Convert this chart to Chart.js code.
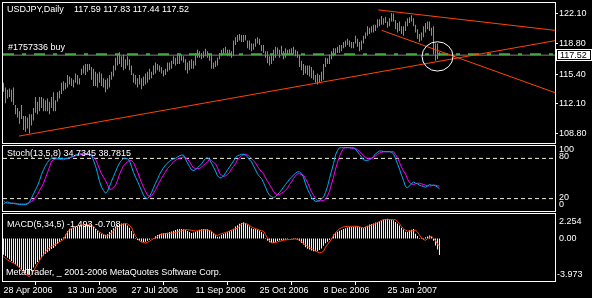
<!DOCTYPE html>
<html>
<head>
<meta charset="utf-8">
<script src="https://cdn.jsdelivr.net/npm/chart.js@4.4.1/dist/chart.umd.min.js"></script>
<style>
  html, body { margin: 0; padding: 0; background: #000; }
  #wrap { position: relative; width: 592px; height: 298px; background: #000; overflow: hidden; }
  canvas { position: absolute; left: 0; }
</style>
</head>
<body>
<div id="wrap">
  <canvas id="priceChart" width="592" height="145" style="top:0"></canvas>
  <canvas id="stochChart" width="592" height="67" style="top:145px"></canvas>
  <canvas id="macdChart" width="592" height="85" style="top:213px"></canvas>
</div>
<script>
// ------------------------------------------------------------
// USDJPY daily, 28 Apr 2006 .. 2 Mar 2007 (bar index 0..218)
// ------------------------------------------------------------
const barHigh = [
  114.44, 113.91, 113.67, 113.81, 113.67, 113.91, 111.99, 111.64, 111.29, 111.99,
  110.76, 110.76, 110.59, 110.94, 110.94, 111.64, 112.86, 112.34, 112.86, 112.86,
  112.69, 112.51, 112.69, 112.34, 112.86, 113.39, 112.51, 113.39, 113.56, 114.44,
  114.61, 114.44, 115.31, 115.14, 114.96, 114.79, 115.49, 115.31, 114.96, 116.01,
  116.36, 116.54, 116.54, 116.54, 116.19, 116.01, 115.66, 115.49, 115.66, 115.49,
  114.96, 114.79, 114.96, 115.31, 115.66, 116.36, 117.24, 117.59, 117.83, 117.41,
  117.59, 117.06, 117.41, 117.06, 116.36, 115.49, 115.31, 114.96, 115.31, 114.96,
  115.14, 115.49, 115.66, 116.01, 115.66, 116.36, 116.71, 116.54, 116.36, 116.19,
  115.84, 116.01, 116.71, 116.71, 116.89, 117.41, 117.24, 117.59, 117.59, 117.59,
  117.41, 117.06, 116.71, 116.89, 117.06, 116.89, 117.76, 118.11, 117.94, 117.76,
  117.94, 118.22, 117.94, 117.66, 117.59, 116.71, 116.89, 117.24, 117.76, 118.11,
  118.29, 118.46, 118.11, 118.11, 117.94, 119.16, 119.51, 119.76, 119.86, 119.76,
  119.76, 119.76, 119.16, 119.16, 118.81, 118.81, 119.34, 119.51, 119.34, 118.64,
  118.64, 117.94, 117.94, 117.41, 117.59, 118.11, 118.46, 118.36, 118.11, 118.57,
  117.94, 118.29, 118.11, 118.18, 118.29, 118.46, 118.11, 117.94, 117.59, 116.89,
  116.54, 116.36, 116.36, 116.36, 116.19, 115.84, 115.31, 115.49, 115.31, 115.66,
  116.54, 117.24, 117.17, 117.59, 117.94, 118.29, 118.29, 118.46, 118.64, 118.64,
  118.99, 119.16, 119.34, 119.16, 118.99, 118.99, 119.69, 119.34, 118.99, 119.16,
  119.69, 120.04, 120.74, 120.56, 120.74, 120.91, 120.91, 121.51, 121.51, 121.86,
  121.61, 121.79, 121.26, 121.61, 122.21, 122.14, 121.44, 121.09, 121.26, 120.74,
  120.74, 121.26, 121.61, 121.72, 121.96, 121.61, 120.91, 120.39, 119.86, 120.04,
  120.74, 121.09, 121.26, 121.26, 120.56, 120.74, 118.81, 118.81, 117.83
];
const barLow = [
  113.46, 112.16, 112.69, 112.86, 112.34, 111.99, 110.94, 110.59, 109.89, 110.41,
  109.19, 109.01, 109.36, 108.84, 109.71, 110.24, 111.11, 110.94, 111.29, 111.64,
  111.29, 111.29, 111.29, 110.94, 111.64, 111.29, 111.29, 112.34, 112.69, 113.21,
  113.56, 113.74, 113.91, 114.26, 114.09, 113.91, 114.44, 114.26, 114.26, 115.31,
  115.49, 115.31, 115.66, 115.84, 114.79, 114.09, 114.09, 113.91, 114.44, 114.09,
  113.91, 113.39, 113.74, 113.91, 114.79, 115.14, 115.84, 116.36, 116.54, 116.19,
  115.84, 116.01, 116.36, 115.84, 115.31, 114.44, 114.26, 113.91, 114.26, 113.74,
  114.09, 114.26, 114.44, 114.79, 114.96, 115.31, 115.49, 115.84, 115.66, 115.49,
  115.14, 115.31, 115.66, 115.84, 116.01, 116.54, 116.36, 116.54, 116.54, 116.89,
  116.71, 115.84, 115.49, 115.84, 116.01, 116.01, 116.36, 117.24, 117.24, 117.06,
  117.24, 117.41, 117.24, 116.89, 116.01, 116.01, 116.19, 116.36, 117.06, 117.41,
  117.59, 117.76, 117.41, 117.41, 117.24, 117.41, 118.64, 118.99, 119.16, 118.99,
  118.99, 119.16, 118.29, 118.11, 117.94, 118.11, 118.46, 118.81, 118.64, 117.94,
  117.76, 117.24, 116.61, 116.36, 116.54, 116.89, 117.24, 117.59, 117.24, 117.59,
  117.06, 117.24, 117.59, 117.59, 117.59, 117.59, 117.41, 117.24, 116.19, 115.84,
  115.31, 115.49, 115.31, 115.14, 114.96, 114.79, 114.44, 114.26, 114.44, 114.61,
  114.79, 116.19, 116.54, 116.54, 117.06, 117.41, 117.59, 117.76, 117.76, 117.94,
  118.29, 118.46, 118.64, 118.46, 118.29, 118.29, 118.81, 118.46, 117.94, 118.11,
  118.81, 119.34, 119.69, 119.86, 120.04, 120.04, 120.21, 120.56, 120.74, 120.91,
  120.91, 121.09, 120.56, 120.74, 121.26, 121.26, 120.39, 120.04, 120.21, 119.86,
  119.69, 120.21, 120.74, 121.09, 121.26, 120.74, 120.04, 119.34, 118.99, 119.16,
  119.51, 120.04, 120.39, 120.21, 119.69, 117.59, 116.89, 117.06, 117.44
];
const lastBar = { open: 117.59, high: 117.83, low: 117.44, close: 117.52 };

// Stochastic(13,5,8): main + signal
const stochMain = [
  12, 14, 15, 14, 13, 13, 12, 12, 11, 11,
  11, 11, 12, 15, 21, 27, 33, 39, 47, 56,
  63, 69, 74, 78, 80, 81, 81, 80, 80, 80,
  80, 80, 80, 81, 82, 83, 85, 86, 87, 87,
  87, 87, 87, 86, 85, 77, 69, 58, 46, 37,
  32, 28, 31, 38, 46, 53, 60, 67, 73, 77,
  80, 80, 80, 76, 68, 59, 52, 46, 39, 32,
  25, 21, 20, 23, 29, 36, 43, 49, 56, 61,
  66, 70, 73, 76, 78, 79, 80, 82, 84, 85,
  85, 79, 73, 68, 63, 62, 63, 66, 69, 72,
  76, 80, 81, 78, 73, 67, 61, 54, 51, 51,
  54, 58, 63, 67, 72, 76, 81, 84, 85, 86,
  86, 85, 82, 78, 75, 69, 63, 57, 53, 50,
  44, 37, 30, 25, 23, 21, 23, 26, 29, 33,
  37, 41, 45, 49, 52, 55, 58, 60, 60, 57,
  52, 42, 34, 28, 22, 18, 16, 16, 17, 20,
  22, 29, 38, 50, 61, 72, 85, 92, 96, 96,
  96, 96, 96, 96, 96, 96, 94, 90, 86, 82,
  78, 77, 77, 78, 80, 83, 87, 89, 91, 91,
  90, 90, 90, 90, 89, 87, 80, 72, 64, 55,
  47, 38, 36, 39, 42, 45, 43, 42, 40, 39,
  38, 37, 39, 41, 40, 40, 39, 37, 34.7345
];
const stochSignal = [
  17, 14, 13, 13, 13, 13, 13, 12, 12, 12,
  12, 12, 13, 14, 16, 18, 22, 26, 32, 37,
  43, 51, 59, 67, 76, 78, 79, 79, 79, 78,
  78, 79, 80, 81, 82, 83, 84, 85, 85, 86,
  86, 86, 86, 86, 84, 82, 79, 72, 64, 57,
  52, 47, 41, 34, 34, 37, 40, 47, 56, 63,
  69, 72, 75, 77, 77, 74, 67, 60, 52, 44,
  37, 31, 25, 23, 24, 28, 33, 39, 45, 50,
  55, 60, 65, 68, 71, 75, 77, 79, 80, 81,
  82, 81, 79, 75, 70, 66, 65, 65, 65, 67,
  70, 72, 75, 79, 77, 74, 72, 66, 58, 55,
  53, 54, 56, 59, 64, 68, 72, 78, 81, 84,
  86, 86, 85, 83, 80, 77, 73, 68, 64, 60,
  57, 51, 46, 41, 36, 31, 27, 26, 26, 28,
  30, 32, 36, 41, 45, 50, 54, 57, 57, 56,
  55, 50, 44, 37, 30, 25, 20, 17, 16, 17,
  17, 19, 24, 31, 42, 52, 64, 74, 83, 90,
  95, 96, 96, 96, 95, 95, 95, 93, 90, 87,
  84, 81, 80, 80, 80, 81, 84, 86, 88, 89,
  90, 90, 90, 90, 90, 90, 86, 81, 74, 67,
  61, 57, 49, 44, 42, 41, 42, 43, 43, 42,
  41, 40, 39, 39, 39, 40, 40, 39, 38.7815
];
const stochLevels = [80, 20];

// MACD(5,34,5): histogram + signal
const macdMain = [
  -1.47, -1.6, -1.75, -1.9, -2.05, -2.2, -2.35, -2.5, -2.65, -2.85,
  -3.0, -3.15, -3.28, -3.3, -3.0, -2.65, -2.35, -2.15, -1.95, -1.75,
  -1.55, -1.38, -1.25, -1.1, -0.95, -0.85, -0.7, -0.5, -0.3, -0.15,
  0.1, 0.37, 0.7, 0.9, 0.98, 1.05, 1.1, 1.13, 1.15, 1.17,
  1.19, 1.24, 1.28, 1.29, 1.2, 1.1, 0.9, 0.75, 0.55, 0.45,
  0.37, 0.35, 0.4, 0.6, 0.8, 0.95, 1.1, 1.25, 1.33, 1.38,
  1.38, 1.38, 1.2, 1.0, 0.7, 0.4, 0.06, -0.12, -0.22, -0.28,
  -0.31, -0.28, -0.2, -0.1, -0.02, 0.06, 0.22, 0.32, 0.4, 0.46,
  0.49, 0.51, 0.53, 0.6, 0.66, 0.72, 0.8, 0.85, 0.88, 0.89,
  0.85, 0.79, 0.7, 0.6, 0.52, 0.55, 0.64, 0.72, 0.82, 0.86,
  0.88, 0.89, 0.85, 0.78, 0.65, 0.48, 0.35, 0.17, 0.2, 0.35,
  0.42, 0.5, 0.58, 0.68, 0.77, 0.9, 1.1, 1.22, 1.36, 1.44,
  1.5, 1.44, 1.3, 1.1, 0.95, 0.89, 0.87, 0.84, 0.75, 0.6,
  0.45, 0.05, -0.2, -0.33, -0.38, -0.4, -0.3, -0.22, -0.18, -0.15,
  -0.12, -0.1, -0.05, 0.0, -0.02, -0.03, -0.03, -0.1, -0.22, -0.4,
  -0.55, -0.8, -0.92, -1.0, -1.08, -1.15, -1.16, -1.16, -1.05, -0.9,
  -0.65, -0.42, -0.28, -0.12, 0.06, 0.37, 0.55, 0.63, 0.72, 0.8,
  0.89, 0.96, 1.02, 1.07, 1.07, 1.07, 1.12, 1.11, 1.07, 1.02,
  0.98, 1.08, 1.18, 1.29, 1.34, 1.38, 1.47, 1.53, 1.59, 1.66,
  1.74, 1.8, 1.81, 1.76, 1.72, 1.68, 1.53, 1.38, 1.2, 1.0,
  0.83, 0.62, 0.6, 0.74, 0.82, 0.88, 0.45, 0.25, 0.06, -0.03,
  -0.09, 0.12, 0.2, 0.28, 0.2, -0.2, -0.64, -1.0, -1.493
];
const macdSignal = [
  -1.62, -1.8, -1.95, -2.05, -2.15, -2.25, -2.35, -2.5, -2.7, -2.85,
  -3.0, -3.2, -3.4, -3.46, -3.3, -3.0, -2.65, -2.3, -2.0, -1.7,
  -1.45, -1.2, -0.95, -0.82, -0.72, -0.62, -0.52, -0.44, -0.3, -0.2,
  -0.09, 0.25, 0.6, 0.8, 0.92, 1.02, 1.1, 1.15, 1.2, 1.24,
  1.27, 1.29, 1.29, 1.25, 1.19, 1.13, 0.92, 0.75, 0.6, 0.48,
  0.38, 0.25, 0.25, 0.4, 0.5, 0.7, 0.9, 1.05, 1.17, 1.28,
  1.33, 1.37, 1.35, 1.2, 1.0, 0.6, 0.21, 0.0, -0.2, -0.3,
  -0.37, -0.4, -0.33, -0.25, -0.12, 0.0, 0.06, 0.2, 0.35, 0.4,
  0.43, 0.45, 0.47, 0.49, 0.5, 0.52, 0.57, 0.62, 0.66, 0.72,
  0.78, 0.83, 0.81, 0.79, 0.77, 0.73, 0.69, 0.7, 0.74, 0.77,
  0.8, 0.82, 0.8, 0.74, 0.67, 0.5, 0.32, 0.3, 0.38, 0.46,
  0.5, 0.56, 0.62, 0.7, 0.78, 0.83, 0.9, 0.96, 1.15, 1.35,
  1.44, 1.38, 1.32, 1.2, 1.08, 0.98, 0.92, 0.85, 0.78, 0.72,
  0.67, 0.38, 0.05, -0.2, -0.4, -0.38, -0.35, -0.3, -0.25, -0.2,
  -0.15, -0.12, -0.1, -0.09, -0.07, -0.05, -0.03, -0.08, -0.14, -0.3,
  -0.45, -0.58, -0.7, -0.82, -0.92, -1.01, -1.12, -1.22, -1.3, -1.28,
  -1.16, -0.8, -0.55, -0.3, -0.05, 0.28, 0.5, 0.75, 0.9, 1.0,
  1.07, 1.1, 1.12, 1.13, 1.13, 1.13, 1.13, 1.12, 1.08, 1.02,
  0.98, 1.05, 1.11, 1.17, 1.23, 1.29, 1.37, 1.46, 1.57, 1.67,
  1.74, 1.74, 1.74, 1.74, 1.74, 1.74, 1.74, 1.55, 1.35, 1.1,
  0.92, 0.77, 0.7, 0.67, 0.7, 0.74, 0.77, 0.6, 0.35, 0.06,
  -0.08, -0.15, 0.0, 0.12, 0.21, 0.05, -0.2, -0.5, -0.708
];

// axis ticks
const tickIdx = [0, 32, 64, 96, 128, 160, 192];
const tickLabels = ['28 Apr 2006', '13 Jun 2006', '27 Jul 2006', '11 Sep 2006', '25 Oct 2006', '8 Dec 2006', '25 Jan 2007'];
const priceTicks = [122.10, 118.80, 115.40, 112.10, 108.80];

// drawn objects: trend lines [i1, p1, i2, p2], order line, analysis circle
const trendLines = [
  [7.75, 108.52, 275.75, 119.13],
  [187.4, 122.55, 275.75, 120.28],
  [189.1, 120.28, 275.75, 113.35],
];
const orderPrice = 117.62;
const orderTicket = '#1757336 buy';
const circleMark = { i: 217, p: 117.38, ri: 7.75, rp: 1.63 };

// ------------------------------------------------------------
// Shared layout
// ------------------------------------------------------------
const X_MIN = -0.25, X_MAX = 275.75;
const AXIS_W = 37;
const FONT = '"Liberation Sans", Arial, sans-serif';
const GREEN = '#32CD32';
const TREND = '#FF4500';

Chart.defaults.font.family = FONT;
Chart.defaults.font.size = 9;
Chart.defaults.color = '#FFFFFF';
Chart.defaults.animation = false;

const toXY = (arr) => arr.map((v, i) => ({ x: i, y: v }));
const hLine = (v) => [{ x: X_MIN, y: v }, { x: X_MAX, y: v }];

function baseOptions(padding) {
  return {
    responsive: false,
    devicePixelRatio: 1,
    events: [],
    layout: { padding },
    plugins: { legend: { display: false }, tooltip: { enabled: false } },
  };
}

function hiddenX() {
  return { type: 'linear', min: X_MIN, max: X_MAX, offset: false, display: false };
}

function rightAxis(min, max, extra = {}) {
  return Object.assign({
    type: 'linear', position: 'right', min, max,
    grid: { display: false },
    border: { display: false },
    ticks: { display: false },
    afterFit: (s) => { s.width = AXIS_W; },
  }, extra);
}

function text(ctx, str, x, y, color = '#FFFFFF') {
  ctx.save();
  ctx.font = `9px ${FONT}`;
  ctx.fillStyle = color;
  ctx.textAlign = 'left';
  ctx.textBaseline = 'middle';
  ctx.fillText(str, x, y);
  ctx.restore();
}

function paneBorder(ctx, h) {
  ctx.save();
  ctx.strokeStyle = '#FFFFFF';
  ctx.lineWidth = 1;
  ctx.strokeRect(2.5, 0.5 + h[0], 553, h[1] - h[0]);
  ctx.restore();
}

// ------------------------------------------------------------
// Price pane
// ------------------------------------------------------------
const priceDecor = {
  id: 'priceDecor',
  afterDatasetsDraw(chart) {
    const { ctx, scales: { x, y } } = chart;
    // analysis circle
    const cx = x.getPixelForValue(circleMark.i), cy = y.getPixelForValue(circleMark.p);
    const rx = x.getPixelForValue(circleMark.i + circleMark.ri) - cx;
    const ry = y.getPixelForValue(circleMark.p - circleMark.rp) - cy;
    ctx.save();
    ctx.strokeStyle = '#FFFFFF';
    ctx.lineWidth = 1;
    ctx.beginPath();
    ctx.ellipse(cx, cy, rx, ry, 0, 0, Math.PI * 2);
    ctx.stroke();
    ctx.restore();
  },
  afterDraw(chart) {
    const { ctx, scales: { y } } = chart;
    paneBorder(ctx, [2, 143]);
    // symbol header + OHLC of the last bar
    text(ctx, 'USDJPY,Daily', 7, 10);
    const ohlc = [lastBar.open, lastBar.high, lastBar.low, lastBar.close].map((v) => v.toFixed(2)).join(' ');
    text(ctx, ohlc, 74, 10);
    text(ctx, orderTicket, 8, 48);
    // bid label box
    const by = Math.round(y.getPixelForValue(lastBar.close));
    ctx.save();
    ctx.fillStyle = '#FFFFFF';
    ctx.fillRect(556, by - 6, 36, 12);
    ctx.strokeStyle = '#000000';
    ctx.strokeRect(557.5, by - 4.5, 33, 9);
    ctx.restore();
    text(ctx, lastBar.close.toFixed(2), 560, by + 0.5, '#000000');
  },
};

new Chart(document.getElementById('priceChart'), {
  type: 'bar',
  data: {
    datasets: [
      {
        type: 'bar',
        data: barHigh.map((h, i) => ({ x: i, y: [barLow[i], h] })),
        backgroundColor: GREEN,
        barThickness: 1,
        borderWidth: 0,
        inflateAmount: 0,
        grouped: false,
        order: 5,
      },
      {
        type: 'line',
        data: hLine(orderPrice),
        borderColor: '#22C022',
        borderWidth: 2,
        borderDash: [11, 8, 4, 8],
        pointRadius: 0,
        order: 4,
      },
      {
        type: 'line',
        data: hLine(lastBar.close),
        borderColor: '#808080',
        borderWidth: 1,
        pointRadius: 0,
        order: 3,
      },
      ...trendLines.map(([i1, p1, i2, p2]) => ({
        type: 'line',
        data: [{ x: i1, y: p1 }, { x: i2, y: p2 }],
        borderColor: TREND,
        borderWidth: 1,
        pointRadius: 0,
        order: 1,
      })),
    ],
  },
  options: Object.assign(baseOptions({ left: 3, top: 3, bottom: 2, right: 0 }), {
    scales: {
      x: hiddenX(),
      y: rightAxis(108.24, 122.94, {
        grid: { display: true, drawOnChartArea: false, tickLength: 3, color: '#FFFFFF' },
        ticks: { display: true, autoSkip: false, padding: 1, callback: (v) => v.toFixed(2) },
        afterBuildTicks: (s) => { s.ticks = priceTicks.map((v) => ({ value: v })); },
      }),
    },
  }),
  plugins: [priceDecor],
});

// ------------------------------------------------------------
// Stochastic pane
// ------------------------------------------------------------
const stochDecor = {
  id: 'stochDecor',
  afterDraw(chart) {
    const { ctx } = chart;
    paneBorder(ctx, [0, 66]);
    text(ctx, `Stoch(13,5,8) ${stochMain[stochMain.length - 1].toFixed(4)} ${stochSignal[stochSignal.length - 1].toFixed(4)}`, 7, 9);
    text(ctx, '100', 559, 5);
    text(ctx, '80', 559, 12);
    text(ctx, '20', 559, 52.5);
    text(ctx, '0', 559, 60);
  },
};

new Chart(document.getElementById('stochChart'), {
  type: 'line',
  data: {
    datasets: [
      ...stochLevels.map((lv) => ({
        data: hLine(lv),
        borderColor: '#F0F0D8',
        borderWidth: 1,
        borderDash: [4, 3],
        pointRadius: 0,
        order: 3,
      })),
      { data: toXY(stochSignal), borderColor: '#FF00FF', borderWidth: 1, pointRadius: 0, order: 2 },
      { data: toXY(stochMain), borderColor: '#00AEEF', borderWidth: 1, pointRadius: 0, order: 1 },
    ],
  },
  options: Object.assign(baseOptions({ left: 3, top: 0, bottom: 0, right: 0 }), {
    scales: { x: hiddenX(), y: rightAxis(0, 100) },
  }),
  plugins: [stochDecor],
});

// ------------------------------------------------------------
// MACD pane
// ------------------------------------------------------------
const macdDecor = {
  id: 'macdDecor',
  afterDraw(chart) {
    const { ctx } = chart;
    paneBorder(ctx, [0, 68]);
    text(ctx, `MACD(5,34,5) ${macdMain[macdMain.length - 1].toFixed(3)} ${macdSignal[macdSignal.length - 1].toFixed(3)}`, 7, 12);
    text(ctx, 'MetaTrader, _ 2001-2006 MetaQuotes Software Corp.', 6, 59.5);
    text(ctx, '2.254', 559, 8.7);
    text(ctx, '0.00', 559, 26);
    text(ctx, '-3.973', 557, 61.3);
  },
};

new Chart(document.getElementById('macdChart'), {
  type: 'bar',
  data: {
    datasets: [
      {
        type: 'bar',
        data: toXY(macdMain),
        backgroundColor: '#F0F0F0',
        barThickness: 1,
        borderWidth: 0,
        inflateAmount: 0,
        grouped: false,
        order: 2,
      },
      {
        type: 'line',
        data: toXY(macdSignal),
        borderColor: TREND,
        borderWidth: 1,
        pointRadius: 0,
        order: 1,
      },
    ],
  },
  options: Object.assign(baseOptions({ left: 3, top: 1, bottom: 0, right: 0 }), {
    scales: {
      x: {
        type: 'linear', min: X_MIN, max: X_MAX, offset: false,
        grid: { display: true, drawOnChartArea: false, tickLength: 3, color: '#FFFFFF' },
        border: { display: false },
        ticks: {
          align: 'start', autoSkip: false, maxRotation: 0, padding: 0.5,
          callback: (v, i) => tickLabels[i],
        },
        afterBuildTicks: (s) => { s.ticks = tickIdx.map((v) => ({ value: v })); },
        afterFit: (s) => { s.height = 16; },
      },
      y: rightAxis(-3.973, 2.254),
    },
  }),
  plugins: [macdDecor],
});
</script>
</body>
</html>
